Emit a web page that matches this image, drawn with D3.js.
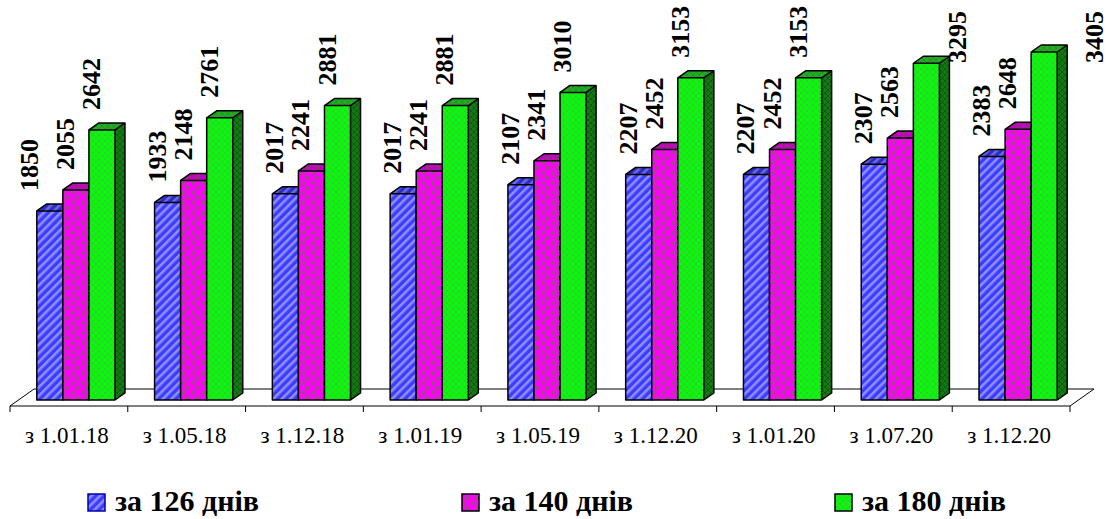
<!DOCTYPE html>
<html>
<head>
<meta charset="utf-8">
<script src="https://d3js.org/d3.v7.min.js"></script>
<style>
  html, body { margin: 0; padding: 0; background: #fff; }
  svg text { font-family: "Liberation Serif", "DejaVu Serif", "Times New Roman", Times, serif; }
</style>
</head>
<body>
<div id="chart"></div>
<script>
// data
const categories = ["з 1.01.18", "з 1.05.18", "з 1.12.18", "з 1.01.19", "з 1.05.19",
                    "з 1.12.20", "з 1.01.20", "з 1.07.20", "з 1.12.20"];
const seriesNames = ["за 126 днів", "за 140 днів", "за 180 днів"];
const days126 = [1850, 1933, 2017, 2017, 2107, 2207, 2207, 2307, 2383];
const days140 = [2055, 2148, 2241, 2241, 2341, 2452, 2452, 2563, 2648];
const days180 = [2642, 2761, 2881, 2881, 3010, 3153, 3153, 3295, 3405];
const series = [days126, days140, days180];

const width = 1109, height = 519;

// 3d geometry
const floorY = 406, floorX0 = 10, floorX1 = 1070;
const floorDepth = [24, -17];
const barOff = [7, -6];
const barDepth = [10, -7];

const svg = d3.select("#chart").append("svg")
  .attr("width", width).attr("height", height);

const defs = svg.append("defs");

// patterns: stripes for blue, dots for pink, lattice for green
function stripes(id, base, stripe) {
  const p = defs.append("pattern").attr("id", id)
    .attr("patternUnits", "userSpaceOnUse")
    .attr("width", 6).attr("height", 6)
    .attr("patternTransform", "rotate(45)");
  p.append("rect").attr("width", 6).attr("height", 6).attr("fill", base);
  p.append("rect").attr("width", 2.6).attr("height", 6).attr("fill", stripe);
}
function dots(id, base, dot) {
  const p = defs.append("pattern").attr("id", id)
    .attr("patternUnits", "userSpaceOnUse")
    .attr("width", 10).attr("height", 10);
  p.append("rect").attr("width", 10).attr("height", 10).attr("fill", base);
  p.append("rect").attr("x", 1).attr("y", 1).attr("width", 4).attr("height", 4).attr("fill", dot);
  p.append("rect").attr("x", 6).attr("y", 6).attr("width", 4).attr("height", 4).attr("fill", dot);
}
function lattice(id, base, line) {
  const p = defs.append("pattern").attr("id", id)
    .attr("patternUnits", "userSpaceOnUse")
    .attr("width", 6).attr("height", 6);
  p.append("rect").attr("width", 6).attr("height", 6).attr("fill", base);
  p.append("path").attr("d", "M0,0L6,6M6,0L0,6")
    .attr("stroke", line).attr("stroke-width", 1).attr("fill", "none");
}

stripes("blueFront", "#3c3cff", "#8e8eff");
stripes("blueTop", "#2c2cc8", "#6a6ae0");
stripes("blueSide", "#1e1e99", "#4a4ab0");
dots("pinkFront", "#ff00ff", "#a8448f");
dots("pinkTop", "#c400c4", "#8a3377");
dots("pinkSide", "#940094", "#6a2a5e");
lattice("greenFront", "#00ff00", "#3cc63c");
lattice("greenTop", "#1fb01f", "#2a8f2a");
lattice("greenSide", "#137a13", "#0e5c0e");

const fills = [
  { front: "url(#blueFront)", top: "url(#blueTop)", side: "url(#blueSide)" },
  { front: "url(#pinkFront)", top: "url(#pinkTop)", side: "url(#pinkSide)" },
  { front: "url(#greenFront)", top: "url(#greenTop)", side: "url(#greenSide)" }
];

// scales
const x0 = d3.scaleBand()
  .domain(d3.range(categories.length))
  .range([floorX0, floorX1])
  .paddingInner(0).paddingOuter(0);

const x1 = d3.scaleBand()
  .domain(d3.range(series.length))
  .range([0, x0.bandwidth()])
  .paddingInner(0).paddingOuter(0.76);

const yBase = floorY + barOff[1];
const y = d3.scaleLinear().domain([0, 3500]).range([yBase, yBase - 357.7]);

// floor
const [fdx, fdy] = floorDepth;
svg.append("path")
  .attr("d", `M${floorX0},${floorY}L${floorX1},${floorY}L${floorX1 + fdx},${floorY + fdy}L${floorX0 + fdx},${floorY + fdy}Z`)
  .attr("fill", "#fff").attr("stroke", "#000").attr("stroke-width", 1);

// x axis with ticks at category boundaries
const axisG = svg.append("g");
axisG.selectAll("line.tick")
  .data(d3.range(categories.length + 1))
  .join("line")
  .attr("x1", i => i < categories.length ? x0(i) : floorX1)
  .attr("x2", i => i < categories.length ? x0(i) : floorX1)
  .attr("y1", floorY).attr("y2", floorY + 6)
  .attr("stroke", "#000").attr("stroke-width", 1);

axisG.selectAll("text.cat")
  .data(categories)
  .join("text")
  .attr("class", "cat")
  .attr("x", (d, i) => x0(i) + x0.bandwidth() / 2 - 2)
  .attr("y", 443)
  .attr("text-anchor", "middle")
  .style("font-size", "23px")
  .text(d => d);

// bars
const [bdx, bdy] = barDepth;
const bw = x1.bandwidth();
const barsG = svg.append("g");

categories.forEach((c, ci) => {
  series.forEach((vals, si) => {
    const v = vals[ci];
    const xl = x0(ci) + x1(si) + barOff[0];
    const xr = xl + bw;
    const yt = y(v), yb = y(0);
    const g = barsG.append("g");
    g.append("path")
      .attr("d", `M${xr},${yb}L${xr + bdx},${yb + bdy}L${xr + bdx},${yt + bdy}L${xr},${yt}Z`)
      .attr("fill", fills[si].side);
    g.append("rect")
      .attr("x", xl).attr("y", yt).attr("width", bw).attr("height", yb - yt)
      .attr("fill", fills[si].front);
    g.append("path")
      .attr("d", `M${xl},${yt}L${xl + bdx},${yt + bdy}L${xr + bdx},${yt + bdy}L${xr},${yt}Z`)
      .attr("fill", fills[si].top);
    // outlines
    g.append("path")
      .attr("d", `M${xl},${yb}L${xl},${yt}L${xl + bdx},${yt + bdy}L${xr + bdx},${yt + bdy}L${xr + bdx},${yb + bdy}L${xr},${yb}Z M${xr},${yb}L${xr},${yt}L${xl},${yt} M${xr},${yt}L${xr + bdx},${yt + bdy}`)
      .attr("fill", "none").attr("stroke", "#000").attr("stroke-width", 1.5)
      .attr("stroke-linejoin", "round");
  });
});

// value labels
const labelSize = 26;
const labelLen = labelSize * 2;
const labelsG = svg.append("g");
categories.forEach((c, ci) => {
  series.forEach((vals, si) => {
    const v = vals[ci];
    const xc = x0(ci) + x1(si) + barOff[0] + bw / 2;
    let lx = xc - 2;
    let ly = y(v) - 20;
    if (ci === 0 && si === 0) lx -= 10; // first label sits further left
    if (ly - labelLen < 4) {
      // no room above: pushed down and to the right of the bar
      const over = 4 - (ly - labelLen);
      ly = 63;
      lx = Math.min(xc + 40 + (over - 13) * 2, width - 6);
    }
    labelsG.append("text")
      .attr("transform", `translate(${lx},${ly}) rotate(-90)`)
      .style("font-size", labelSize + "px")
      .style("font-weight", "bold")
      .text(v);
  });
});

// legend
const legendX = [88, 462, 835];
const legend = svg.append("g");
seriesNames.forEach((name, i) => {
  legend.append("rect")
    .attr("x", legendX[i]).attr("y", 494)
    .attr("width", 17).attr("height", 17)
    .attr("fill", fills[i].front)
    .attr("stroke", i === 0 ? "#0000aa" : "#000").attr("stroke-width", 1.5);
  legend.append("text")
    .attr("x", legendX[i] + 27).attr("y", 511)
    .style("font-size", "30px").style("font-weight", "bold")
    .text(name);
});
</script>
</body>
</html>
